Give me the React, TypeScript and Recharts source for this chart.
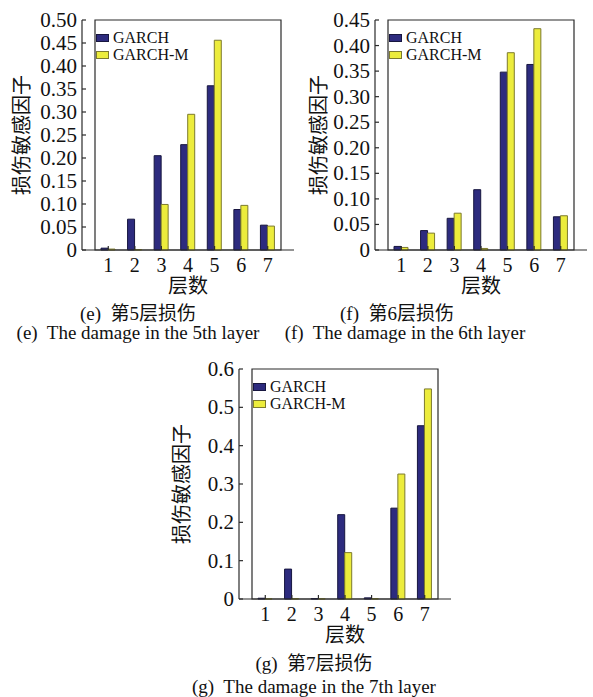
import React from "react";
import { BarChart, Bar, XAxis, YAxis, Legend, ReferenceArea } from "recharts";

const LAYERS = ["1", "2", "3", "4", "5", "6", "7"];

// (e) damage in layer 5
const E_GARCH = [0.004, 0.067, 0.205, 0.229, 0.357, 0.088, 0.054];
const E_GARCH_M = [0.002, 0.001, 0.099, 0.295, 0.456, 0.097, 0.052];
const E_TICKS = [0, 0.05, 0.1, 0.15, 0.2, 0.25, 0.3, 0.35, 0.4, 0.45, 0.5];

// (f) damage in layer 6
const F_GARCH = [0.007, 0.038, 0.062, 0.118, 0.348, 0.363, 0.065];
const F_GARCH_M = [0.005, 0.033, 0.072, 0.003, 0.386, 0.433, 0.067];
const F_TICKS = [0, 0.05, 0.1, 0.15, 0.2, 0.25, 0.3, 0.35, 0.4, 0.45];

// (g) damage in layer 7
const G_GARCH = [0.002, 0.078, 0.001, 0.22, 0.003, 0.237, 0.452];
const G_GARCH_M = [0.0005, 0.001, 0.0005, 0.121, 0.001, 0.326, 0.548];
const G_TICKS = [0, 0.1, 0.2, 0.3, 0.4, 0.5, 0.6];

const SERIF = "'Liberation Serif', 'Times New Roman', serif";
const CJK = "'Liberation Serif', 'Noto Sans CJK SC', sans-serif";
const AXIS = "#2a2a2a";
const NAVY = { fill: "#2d2b7e", stroke: "#17163f" };
const YELLOW = { fill: "#ecec3c", stroke: "#7c7a2e" };

const XTick = ({ x, y, payload }: any) => (
  <g>
    <line x1={x} x2={x} y1={y} y2={y - 4} stroke={AXIS} strokeWidth={1.2} />
    <text x={x} y={y + 15} textAnchor="middle" dominantBaseline="central"
      fontFamily={SERIF} fontSize={20} fill="#111">
      {payload.value}
    </text>
  </g>
);

const makeYTick = (digits: number) => ({ x, y, payload }: any) => (
  <g>
    <line x1={x} x2={x + 4} y1={y} y2={y} stroke={AXIS} strokeWidth={1.2} />
    <text x={x - 5} y={y} textAnchor="end" dominantBaseline="central"
      fontFamily={SERIF} fontSize={21} fill="#111">
      {payload.value === 0 ? "0" : payload.value.toFixed(digits)}
    </text>
  </g>
);

const LegendBox = () => (
  <div style={{ fontFamily: SERIF, fontSize: 16, color: "#111", lineHeight: "17px" }}>
    {[
      { name: "GARCH", c: NAVY },
      { name: "GARCH-M", c: YELLOW },
    ].map((it) => (
      <div key={it.name} style={{ display: "flex", alignItems: "center", whiteSpace: "nowrap" }}>
        <span style={{
          display: "inline-block", width: 11, height: 6, background: it.c.fill,
          border: `1px solid ${it.c.stroke}`, marginRight: 4,
        }} />
        {it.name}
      </div>
    ))}
  </div>
);

interface PanelProps {
  left: number;
  top: number;
  garch: number[];
  garchM: number[];
  ticks: number[];
  digits: number;
  yLabelOffset: number;
}

function Panel({ left, top, garch, garchM, ticks, digits, yLabelOffset }: PanelProps) {
  const data = LAYERS.map((layer, i) => ({ layer, garch: garch[i], garchM: garchM[i] }));
  const max = ticks[ticks.length - 1];
  return (
    <div style={{ position: "absolute", left, top }}>
      <BarChart width={300} height={300} data={data} barGap={0}
        margin={{ top: 20, right: 6, left: 0, bottom: 0 }}>
        <XAxis dataKey="layer" height={50} padding={{ left: 13, right: 13 }}
          axisLine={{ stroke: AXIS, strokeWidth: 1.2 }} tickLine={false}
          tickSize={0} tickMargin={0} tick={<XTick />} interval={0}
          label={{ value: "层数", position: "insideBottom", offset: 7, fontFamily: CJK, fontSize: 20, fill: "#111" }} />
        <YAxis width={82} domain={[0, max]} ticks={ticks} interval={0}
          axisLine={{ stroke: AXIS, strokeWidth: 1.2 }} tickLine={false}
          tickSize={0} tickMargin={0} tick={makeYTick(digits)}
          label={{ value: "损伤敏感因子", angle: -90, position: "insideLeft", offset: yLabelOffset,
            fontFamily: CJK, fontSize: 20, fill: "#111", style: { textAnchor: "middle" } }} />
        <ReferenceArea y1={0} y2={max} fill="none" fillOpacity={0} stroke={AXIS} strokeWidth={1.2} />
        <Legend layout="vertical" align="center" verticalAlign="middle" content={<LegendBox />}
          wrapperStyle={{ left: 96, top: 29, width: "auto" }} />
        <Bar dataKey="garch" name="GARCH" barSize={7} fill={NAVY.fill} stroke={NAVY.stroke}
          strokeWidth={1} isAnimationActive={false} />
        <Bar dataKey="garchM" name="GARCH-M" barSize={7} fill={YELLOW.fill} stroke={YELLOW.stroke}
          strokeWidth={1} isAnimationActive={false} />
      </BarChart>
    </div>
  );
}

const Caption = ({ left, top, width, text, size = 19 }: any) => (
  <div style={{
    position: "absolute", left, top, width, textAlign: "center", fontFamily: CJK,
    fontSize: size, lineHeight: "19px", color: "#111", whiteSpace: "pre",
  }}>
    {text}
  </div>
);

export default function App() {
  return (
    <div style={{ position: "absolute", left: 0, top: 0, width: 593, height: 697, background: "#fff", overflow: "hidden" }}>
      <Panel left={0} top={0} garch={E_GARCH} garchM={E_GARCH_M} ticks={E_TICKS} digits={2} yLabelOffset={22} />
      <Panel left={293} top={0} garch={F_GARCH} garchM={F_GARCH_M} ticks={F_TICKS} digits={2} yLabelOffset={26} />
      <Panel left={157} top={349} garch={G_GARCH} garchM={G_GARCH_M} ticks={G_TICKS} digits={1} yLabelOffset={25} />
      <Caption left={38} top={304} width={200} text={"(e)  第5层损伤"} />
      <Caption left={0} top={323} width={276} text={"(e)  The damage in the 5th layer"} />
      <Caption left={297} top={304} width={200} text={"(f)  第6层损伤"} />
      <Caption left={267} top={323} width={276} text={"(f)  The damage in the 6th layer"} />
      <Caption left={214} top={654} width={200} text={"(g)  第7层损伤"} />
      <Caption left={176} top={677} width={276} text={"(g)  The damage in the 7th layer"} />
    </div>
  );
}
